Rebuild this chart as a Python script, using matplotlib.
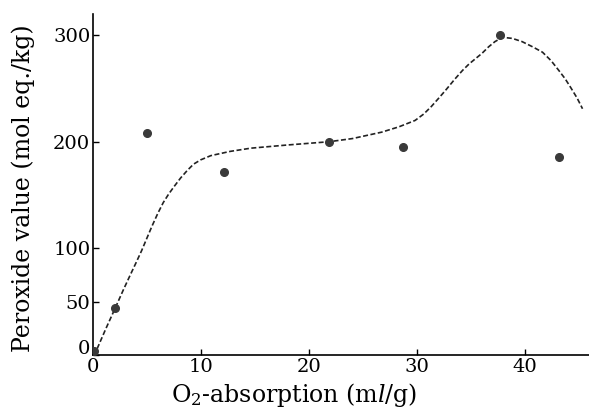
import matplotlib
matplotlib.use("Agg")
import matplotlib.pyplot as plt
import matplotlib.transforms as mtransforms

# measured data points
obs_x = [0.1, 2.0, 5.0, 12.1, 21.8, 28.7, 37.7, 43.1]
obs_y = [4, 44, 208, 172, 200, 195, 300, 186]

# hand-drawn trend curve
curve_x = [0, 0.34, 1.2, 2.05, 2.8, 3.44, 4.0, 4.5, 5.0, 5.46, 6.0, 6.5, 7.0, 7.5, 8.1,
           8.71, 9.3, 9.95, 10.9, 11.8, 12.7, 14.6, 18, 21.8, 24, 26.7, 28.3, 29.8,
           30.6, 31.3, 32.0, 32.6, 33.5, 34.2, 34.8, 35.4, 36.0, 36.6, 37.2, 37.9,
           38.8, 39.7, 40.7, 41.6, 42.4, 43.1, 43.7, 44.2, 44.8, 45.3]
curve_y = [0, 5, 25, 44, 61, 75, 87, 98, 110, 121, 133, 143, 151, 158, 166,
           173, 179, 183, 187, 189, 191, 194, 197, 200, 203, 209, 214, 220,
           226, 233, 241, 248, 259, 267, 273, 278, 283, 289, 294, 298,
           297, 294, 289, 284, 276, 267, 259, 251, 241, 231]

xticks = [0, 10, 20, 30, 40]
yticks = [0, 50, 100, 200, 300]

plt.rcParams['font.family'] = ['DejaVu Serif']
plt.rcParams['mathtext.fontset'] = 'dejavuserif'

fig = plt.figure(figsize=(5.89, 4.08), dpi=100)
ax = fig.add_axes([0.158, 0.130, 0.842, 0.836])

ax.plot(curve_x, curve_y, linestyle=(0, (3, 1.5)), color='#222222', lw=1.2, zorder=2)
ax.plot(obs_x, obs_y, 'o', color='#3a3a3a', markersize=5.5, zorder=3)

ax.set_xlim(0, 45.9)
ax.set_ylim(0, 320)
ax.set_xticks(xticks)
ax.set_yticks(yticks)
ax.set_xticklabels([str(v) for v in xticks], fontsize=14)
ax.set_yticklabels([str(v) for v in yticks], fontsize=14)
ax.tick_params(direction='in', length=4, width=1, pad=2)

# nudge the y "0" label up a little, as in the reference
lab0 = ax.get_yticklabels()[0]
lab0.set_transform(lab0.get_transform() + mtransforms.ScaledTranslation(0, 8 / 100, fig.dpi_scale_trans))

for s in ['top', 'right']:
    ax.spines[s].set_visible(False)
for s in ['left', 'bottom']:
    ax.spines[s].set_linewidth(1.2)

ax.set_xlabel(r'O$_2$-absorption (m$\mathit{l}$/g)', fontsize=17)
ax.set_ylabel('Peroxide value (mol eq./kg)', fontsize=17)
ax.xaxis.set_label_coords(0.406, -0.075)
ax.yaxis.set_label_coords(-0.117, 0.49)

fig.savefig('out.png', dpi=100)
